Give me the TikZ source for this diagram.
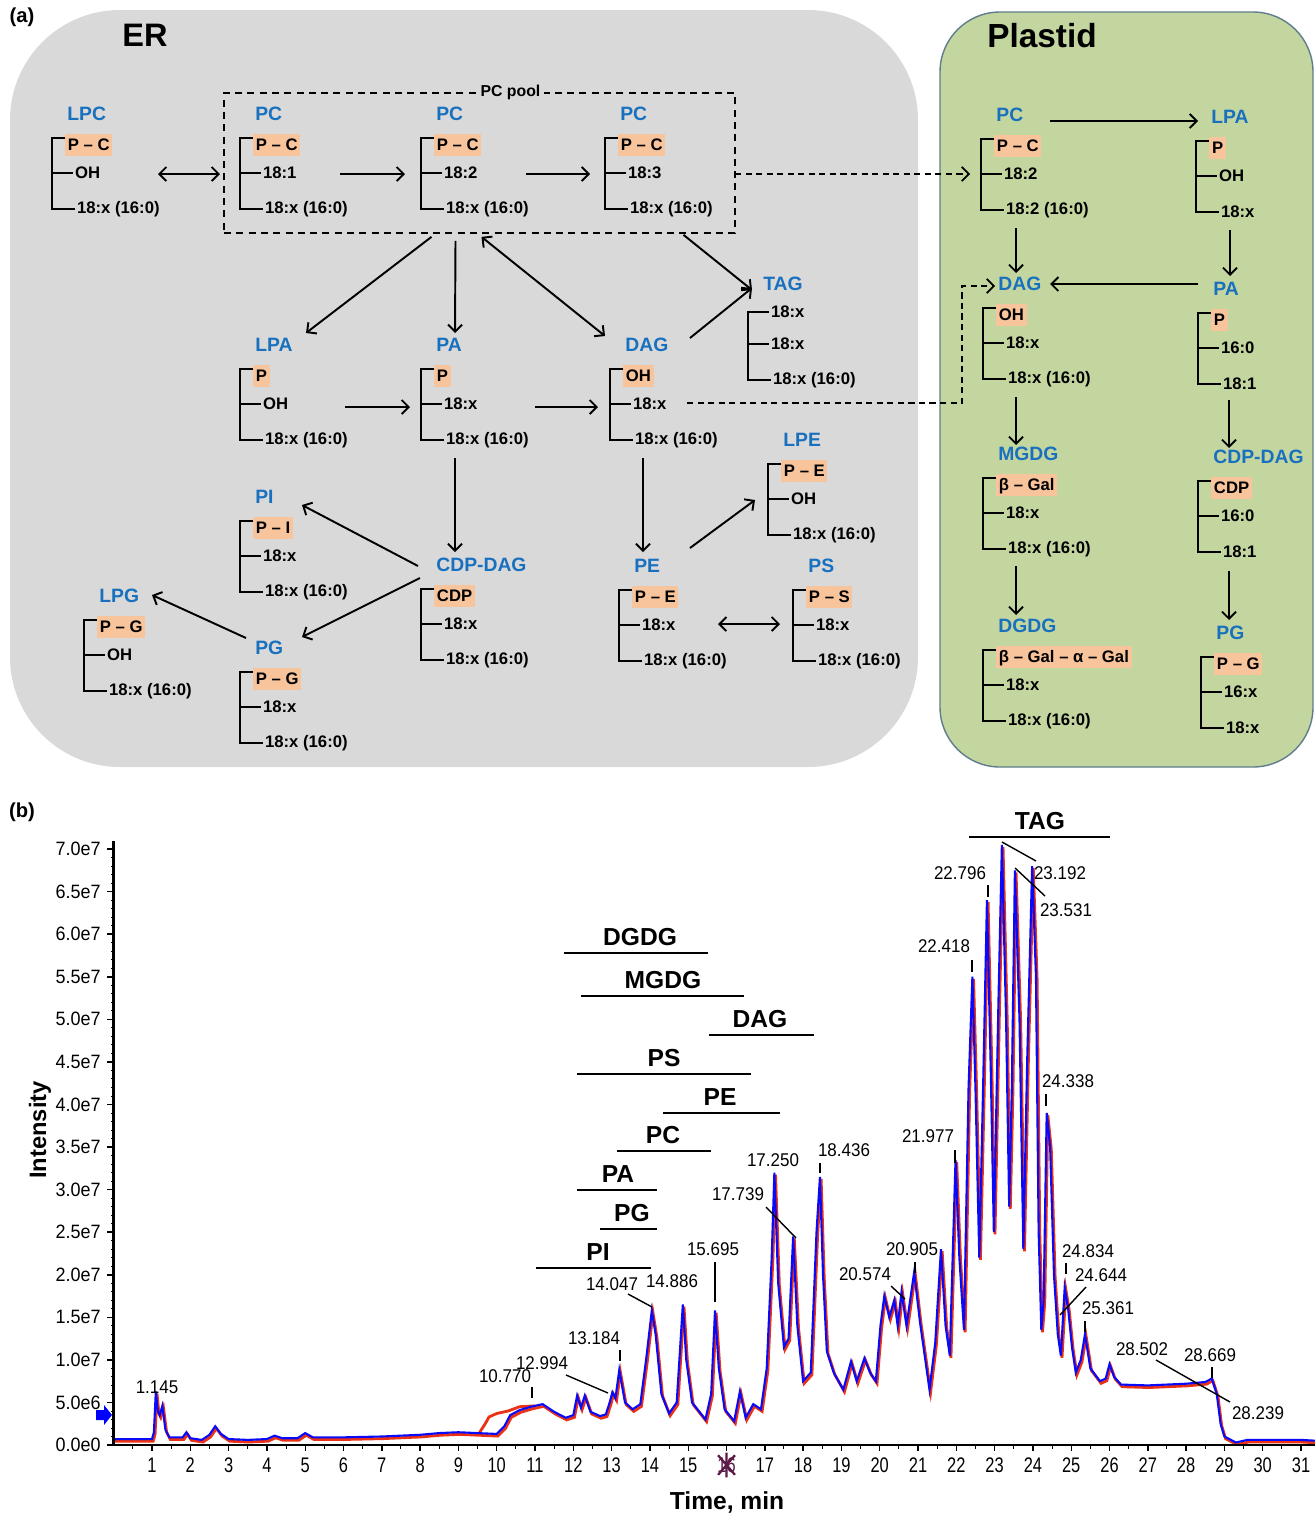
\documentclass[tikz,border=0pt]{standalone}
\usepackage{fontspec}
\setmainfont{Liberation Sans}
\usepackage{graphicx}
\usetikzlibrary{calc,positioning,arrows.meta}

\definecolor{ergrey}{RGB}{217,217,217}
\definecolor{plgreen}{RGB}{196,214,160}
\definecolor{plborder}{RGB}{95,125,140}
\definecolor{lblue}{RGB}{24,112,190}
\definecolor{hlorange}{RGB}{248,196,156}
\definecolor{trred}{RGB}{235,50,20}
\definecolor{trblue}{RGB}{10,10,250}
\definecolor{markpurple}{RGB}{90,25,70}

\newcommand{\chainfont}{\fontsize{9.5}{11}\selectfont\bfseries}

% one lipid: id, origin of the bracket, name, head group, chain 1, chain 2
\newcommand{\lipid}[6]{%
  \begin{scope}[shift={(#2)}]
    \coordinate (#1) at (0,0);
    \node[lname] (#1_n) at (15,-24) {#3};
    \node[lhead] (#1_h) at (13,7) {#4};
    \node[lchain] (#1_a) at (21,35) {#5};
    \node[lchain] (#1_b) at (23,71) {#6};
    \draw[bond] (13,0) -- (0,0) -- (0,71) -- (#1_b.west);
    \draw[bond] (0,35) -- (#1_a.west);
  \end{scope}}

\newcommand{\bluetrace}{(0,0.7) -- (1.0,0.7) -- (1.05,1.5) -- (1.1,6.3) -- (1.15,4.0) -- (1.2,3.5) -- (1.27,4.6) -- (1.35,1.8) -- (1.45,0.9) -- (1.8,0.9) -- (1.9,1.5) -- (2.0,0.8) -- (2.3,0.6) -- (2.5,1.2) -- (2.65,2.2) -- (2.8,1.3) -- (3.0,0.7) -- (3.5,0.6) -- (4.0,0.7) -- (4.2,1.1) -- (4.4,0.8) -- (4.8,0.8) -- (5.0,1.4) -- (5.2,0.9) -- (6.0,0.9) -- (7.0,1.0) -- (8.0,1.2) -- (8.5,1.4) -- (9.0,1.5) -- (9.5,1.4) -- (10.0,1.3) -- (10.2,2.2) -- (10.35,3.5) -- (10.6,4.1) -- (10.9,4.5) -- (11.2,4.8) -- (11.5,3.9) -- (11.8,3.2) -- (12.0,3.5) -- (12.1,5.8) -- (12.2,4.4) -- (12.3,5.8) -- (12.45,3.9) -- (12.7,3.4) -- (12.85,3.6) -- (12.95,5.0) -- (13.02,6.2) -- (13.1,5.5) -- (13.2,8.8) -- (13.35,5.0) -- (13.55,4.2) -- (13.75,4.8) -- (13.9,10.0) -- (14.05,15.8) -- (14.15,13.0) -- (14.3,6.0) -- (14.5,3.7) -- (14.7,5.0) -- (14.86,16.5) -- (14.95,10.0) -- (15.1,5.0) -- (15.45,3.0) -- (15.6,6.0) -- (15.7,15.8) -- (15.8,9.0) -- (15.95,4.2) -- (16.2,2.8) -- (16.35,6.3) -- (16.5,3.2) -- (16.7,4.8) -- (16.9,4.2) -- (17.05,9.0) -- (17.18,22.0) -- (17.25,32.0) -- (17.35,19.0) -- (17.5,11.5) -- (17.62,12.5) -- (17.74,24.5) -- (17.85,14.0) -- (18.0,7.5) -- (18.2,8.5) -- (18.35,25.0) -- (18.44,31.5) -- (18.52,20.0) -- (18.62,11.0) -- (18.8,8.5) -- (19.05,6.5) -- (19.25,9.8) -- (19.4,7.5) -- (19.6,10.2) -- (19.75,8.5) -- (19.9,7.5) -- (20.02,14.0) -- (20.12,17.5) -- (20.25,15.0) -- (20.38,17.0) -- (20.47,14.0) -- (20.57,18.0) -- (20.7,14.0) -- (20.9,20.3) -- (21.05,14.5) -- (21.3,6.5) -- (21.45,12.0) -- (21.6,23.0) -- (21.72,14.0) -- (21.83,10.5) -- (21.98,33.5) -- (22.08,22.0) -- (22.2,13.5) -- (22.32,42.0) -- (22.42,55.0) -- (22.5,42.0) -- (22.6,22.0) -- (22.7,42.0) -- (22.8,64.0) -- (22.9,44.0) -- (22.98,25.0) -- (23.1,52.0) -- (23.19,70.5) -- (23.3,50.0) -- (23.38,28.0) -- (23.45,42.0) -- (23.53,67.5) -- (23.65,50.0) -- (23.75,23.0) -- (23.85,45.0) -- (23.98,68.0) -- (24.08,55.0) -- (24.15,25.0) -- (24.22,13.5) -- (24.28,17.0) -- (24.36,39.0) -- (24.45,35.0) -- (24.55,20.0) -- (24.65,13.0) -- (24.73,10.5) -- (24.83,18.5) -- (24.92,16.0) -- (25.02,11.5) -- (25.12,8.5) -- (25.25,10.0) -- (25.36,13.0) -- (25.5,9.0) -- (25.75,7.5) -- (25.9,7.8) -- (26.0,9.5) -- (26.12,8.0) -- (26.3,7.1) -- (27.0,7.0) -- (28.0,7.2) -- (28.5,7.4) -- (28.67,7.8) -- (28.8,6.0) -- (28.9,2.5) -- (29.0,1.0) -- (29.3,0.3) -- (29.6,0.6) -- (30.5,0.6) -- (31.0,0.6) -- (31.4,0.5)}

\begin{document}
\begin{tikzpicture}[x=0.02cm,y=-0.02cm,>={Straight Barb[length=4pt,width=8pt]}]

    \tikzstyle{lname}=[anchor=west,inner sep=0pt,text=lblue,font=\fontsize{11}{12}\selectfont\bfseries]
    \tikzstyle{lhead}=[anchor=west,fill=hlorange,font=\chainfont,inner xsep=1.5pt,inner ysep=2pt,text height=7.5pt,text depth=1pt]
    \tikzstyle{lchain}=[anchor=west,font=\chainfont,inner sep=1pt]
    \tikzstyle{bond}=[line width=1.1pt]
    \tikzstyle{arr}=[line width=1.1pt,->]
    \tikzstyle{darrow}=[line width=1pt,dash pattern=on 3.5pt off 2.5pt,->]
    \tikzstyle{panel}=[font=\fontsize{11.5}{12}\selectfont\bfseries]
    \tikzstyle{pklab}=[inner sep=0pt,font=\fontsize{10.5}{11}\selectfont]
    \tikzstyle{lead}=[line width=0.8pt]
    \tikzstyle{clslab}=[inner sep=0pt,font=\fontsize{14}{15}\selectfont\bfseries]
    \tikzstyle{bar}=[line width=1.2pt]

    \useasboundingbox (0,0) rectangle (1315,1515);
    \fill[white] (0,0) rectangle (1315,1515);

    % (a) compartments
    \node[panel] (lab_a) at (22,17) {(a)};
    \fill[ergrey,rounded corners=2.2cm] (10,10) rectangle (918,767);
    \filldraw[fill=plgreen,draw=plborder,line width=0.8pt,rounded corners=1.2cm] (940,12) rectangle (1313,767);
    \node (er_lab) at (145,35) [font=\fontsize{18.5}{20}\selectfont\bfseries] {ER};
    \node (pl_lab) at (1042,36) [font=\fontsize{19}{20}\selectfont\bfseries] {Plastid};

    \node (pool) [draw,line width=1pt,dash pattern=on 4pt off 3pt,minimum width=10.22cm,minimum height=2.8cm,inner sep=0pt] at (479.5,163) {};
    \node (pool_lab) [fill=ergrey,inner sep=2pt,font=\fontsize{9}{10}\selectfont\bfseries] at ($(pool.north)+(31,0)$) {PC pool};

    % ER lipids
    \lipid{lpc}{52,138}{LPC}{P – C}{OH}{18:x (16:0)}
    \lipid{pc_1}{240,138}{PC}{P – C}{18:1}{18:x (16:0)}
    \lipid{pc_2}{421,138}{PC}{P – C}{18:2}{18:x (16:0)}
    \lipid{pc_3}{605,138}{PC}{P – C}{18:3}{18:x (16:0)}
    \lipid{lpa}{240,369}{LPA}{P}{OH}{18:x (16:0)}
    \lipid{pa}{421,369}{PA}{P}{18:x}{18:x (16:0)}
    \lipid{dag}{610,369}{DAG}{OH}{18:x}{18:x (16:0)}
    \lipid{lpe}{768,464}{LPE}{P – E}{OH}{18:x (16:0)}
    \lipid{p_i}{240,521}{PI}{P – I}{18:x}{18:x (16:0)}
    \lipid{cdp}{421,589}{CDP-DAG}{CDP}{18:x}{18:x (16:0)}
    \lipid{pe}{619,590}{PE}{P – E}{18:x}{18:x (16:0)}
    \lipid{ps}{793,590}{PS}{P – S}{18:x}{18:x (16:0)}
    \lipid{lpg}{84,620}{LPG}{P – G}{OH}{18:x (16:0)}
    \lipid{pg}{240,672}{PG}{P – G}{18:x}{18:x (16:0)}

    \begin{scope}[shift={(748,312)}]
      \coordinate (tag) at (0,0);
      \node[lname] (tag_n) at (15,-28) {TAG};
      \node[lchain] (tag_a) at (21,0) {18:x};
      \node[lchain] (tag_b) at (21,32) {18:x};
      \node[lchain] (tag_c) at (23,68) {18:x (16:0)};
      \draw[bond] (tag_a.west) -- (0,0) -- (0,68) -- (tag_c.west);
      \draw[bond] (0,32) -- (tag_b.west);
    \end{scope}

    % plastid lipids
    \lipid{pl_pc}{981,139}{PC}{P – C}{18:2}{18:2 (16:0)}
    \lipid{pl_lpa}{1196,141}{LPA}{P}{OH}{18:x}
    \lipid{pl_dag}{983,308}{DAG}{OH}{18:x}{18:x (16:0)}
    \lipid{pl_pa}{1198,313}{PA}{P}{16:0}{18:1}
    \lipid{mgdg}{983,478}{MGDG}{β – Gal}{18:x}{18:x (16:0)}
    \lipid{pl_cdp}{1198,481}{CDP-DAG}{CDP}{16:0}{18:1}
    \lipid{dgdg}{983,650}{DGDG}{β – Gal – α – Gal}{18:x}{18:x (16:0)}
    \lipid{pl_pg}{1201,657}{PG}{P – G}{16:x}{18:x}

    % ER reactions
    \draw[arr,<->] ($(lpc)+(106,36)$) -- ($(pc_1)+(-20,36)$);
    \draw[arr] ($(pc_1)+(100,36)$) -- ($(pc_2)+(-16,36)$);
    \draw[arr] ($(pc_2)+(105,36)$) -- ($(pc_3)+(-15,36)$);
    \draw[arr] ($(pool.south)+(-48,3)$) -- ($(lpa)+(66,-36)$);
    \draw[arr] ($(pool.south)+(-24,7)$) -- ($(pa)+(34,-36)$);
    \draw[arr,<->] ($(pool.south)+(2,3)$) -- ($(dag)+(-5,-33)$);
    \draw[arr] ($(pool.south)+(204,1)$) -- ($(tag)+(4,-22)$);
    \draw[arr] ($(dag)+(80,-31)$) -- ($(tag)+(4,-24)$);
    \draw[arr] ($(lpa)+(105,38)$) -- ($(pa)+(-11,38)$);
    \draw[arr] ($(pa)+(114,38)$) -- ($(dag)+(-12,38)$);
    \draw[arr] ($(pa)+(34,89)$) -- ($(cdp)+(34,-37)$);
    \draw[arr] ($(dag)+(33,89)$) -- ($(pe)+(24,-38)$);
    \draw[arr] ($(pe)+(71,-42)$) -- ($(lpe)+(-13,36)$);
    \draw[arr,<->] ($(pe)+(99,34)$) -- ($(ps)+(-13,34)$);
    \draw[arr] ($(cdp)+(-3,-23)$) -- ($(p_i)+(62,-16)$);
    \draw[arr] ($(cdp)+(-1,-11)$) -- ($(pg)+(62,-35)$);
    \draw[arr] ($(pg)+(6,-34)$) -- ($(lpg)+(68,-25)$);

    % ER to plastid
    \draw[darrow] ($(pc_3)+(130,36)$) -- ($(pl_pc)+(-11,35)$);
    \draw[darrow] ($(dag)+(77,34)$) -| ($(pl_dag)+(-21,-22)$) -- ($(pl_dag)+(12,-22)$);

    % plastid reactions
    \draw[arr] ($(pl_pc)+(69,-18)$) -- ($(pl_lpa)+(2,-20)$);
    \draw[arr] ($(pl_pc)+(35,89)$) -- ($(pl_dag)+(33,-35)$);
    \draw[arr] ($(pl_lpa)+(34,89)$) -- ($(pl_pa)+(32,-37)$);
    \draw[arr] ($(pl_pa)+(0,-29)$) -- ($(pl_dag)+(67,-24)$);
    \draw[arr] ($(pl_dag)+(33,89)$) -- ($(mgdg)+(33,-33)$);
    \draw[arr] ($(pl_pa)+(31,87)$) -- ($(pl_cdp)+(31,-33)$);
    \draw[arr] ($(mgdg)+(33,88)$) -- ($(dgdg)+(33,-35)$);
    \draw[arr] ($(pl_cdp)+(31,90)$) -- ($(pl_pg)+(28,-37)$);

    % (b) chromatogram
    \node[panel] (lab_b) at (22,812) {(b)};
    \node (ylab) at (40,1130) [rotate=90,font=\fontsize{13.5}{14}\selectfont\bfseries] {Intensity};
    \node (xlab) at (727,1502) [font=\fontsize{14}{15}\selectfont\bfseries] {Time, min};

    \begin{scope}[shift={(113.7,1445)},xscale=38.3,yscale=-8.514]
      \foreach \v in {1,...,70} \draw[line width=0.5pt] (-0.07,\v) -- (0,\v);
      \foreach \v/\lab in {0/0.0e0,5/5.0e6,10/1.0e7,15/1.5e7,20/2.0e7,25/2.5e7,30/3.0e7,35/3.5e7,40/4.0e7,45/4.5e7,50/5.0e7,55/5.5e7,60/6.0e7,65/6.5e7,70/7.0e7} {
        \draw[line width=0.9pt] (-0.18,\v) -- (0,\v);
        \node[anchor=east,inner sep=0pt,font=\fontsize{11}{12}\selectfont] at (-0.33,\v) {\scalebox{0.93}[1]{\lab}};
      }
      \foreach \t in {0.5,1.5,...,30.5} \draw[line width=0.6pt] (\t,0) -- (\t,-0.45);
      \foreach \t in {1,...,31} \draw[line width=0.8pt] (\t,0) -- (\t,-0.75);
      \foreach \t in {1,...,15,17,18,...,31}
        \node[font=\fontsize{12}{13}\selectfont] at (\t,-2.35) {\scalebox{0.78}[1]{\t}};
      \node[font=\fontsize{12}{13}\selectfont,text=markpurple] (tmark) at (16,-2.35) {\scalebox{0.78}[1]{16}};
      \draw[markpurple,line width=1.3pt] (15.78,-1.2) -- (16.22,-3.5) (16.22,-1.2) -- (15.78,-3.5) (16,-0.9) -- (16,-3.8);

      \draw[trred,line width=1.6pt,shift={(0.03,-0.25)}] \bluetrace;
      \draw[trred,line width=1.6pt] (9.55,1.45) -- (9.7,2.5) -- (9.8,3.3) -- (10.0,3.7) -- (10.3,4.0) -- (10.6,4.5) -- (11.0,4.6);
      \draw[trblue,line width=1.2pt] \bluetrace;

      \draw[line width=1.4pt] (0,0) -- (31.4,0);
      \draw[line width=1.4pt] (0,0) -- (0,70.9);
    \end{scope}
    \fill[blue] (96,1410) -- (104,1410) -- (104,1405) -- (112,1415) -- (104,1425) -- (104,1420) -- (96,1420) -- cycle;

    % lipid classes
    \foreach \lab/\cx/\cy/\xa/\xb in {TAG/1040/821/969/1110,DGDG/640/937/564/708,MGDG/663/980/581/744,DAG/760/1019/709/814,PS/664/1058/577/751,PE/720/1097/663/780,PC/663/1135/617/711,PA/618/1174/577/657,PG/632/1213/600/657,PI/598/1252/536/651} {
      \node[clslab] (cls_\lab) at (\cx,\cy) {\lab};
      \draw[bar] (\xa,\cy+16) -- (\xb,\cy+16);
    }

    % peak labels
    \foreach \lab/\cx/\cy in {1.145/157/1387,14.886/672/1281,17.250/773/1160,28.239/1258/1413}
      \node[pklab] at (\cx,\cy) {\scalebox{0.92}[1]{\lab}};
    \foreach \lab/\cx/\cy/\sx/\sy/\ex/\ey [count=\i] in {10.770/505/1376/27/11/0/11,12.994/542/1363/24/12/42/18,13.184/594/1338/26/12/0/11,14.047/612/1284/16/10/24/13,15.695/713/1249/2/13/0/40,17.739/738/1194/28/13/30/31,18.436/844/1150/-24/13/0/10,20.574/865/1274/26/12/14/13,20.905/912/1249/3/13/0/11,21.977/928/1136/27/14/0/13,22.418/944/946/28/14/0/12,22.796/960/873/28/12/0/12,23.192/1060/873/-24/-12/-34/-19,23.531/1066/910/-21/-14/-30/-28,24.338/1068/1081/-22/13/0/12,24.834/1088/1251/-22/12/0/11,24.644/1101/1275/-15/12/-26/28,25.361/1108/1308/-23/13/0/11,28.502/1142/1349/14/11/74/42,28.669/1210/1355/2/12/0/11} {
      \node[pklab] (pk_\i) at (\cx,\cy) {\scalebox{0.92}[1]{\lab}};
      \draw[lead] ($(pk_\i)+(\sx,\sy)$) -- ++(\ex,\ey);
    }

\end{tikzpicture}
\end{document}
